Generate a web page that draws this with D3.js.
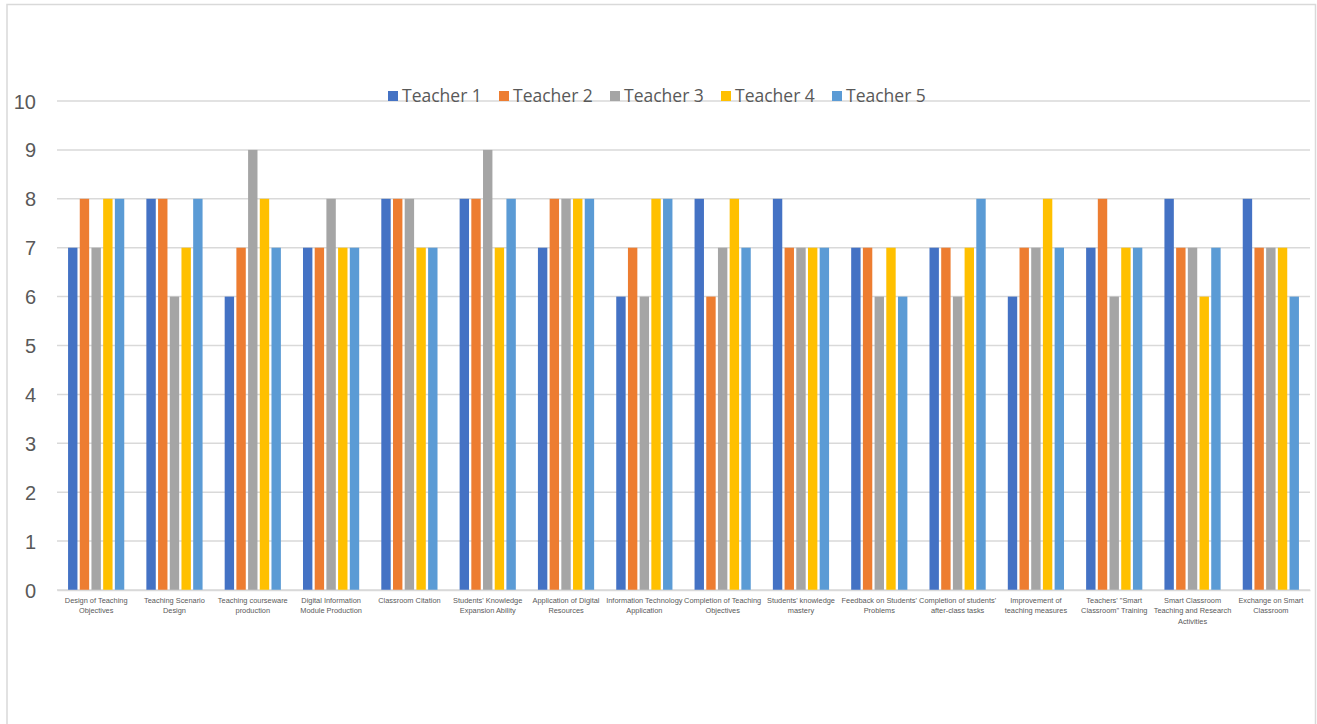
<!DOCTYPE html>
<html>
<head>
<meta charset="utf-8">
<script src="https://cdn.jsdelivr.net/npm/d3@7"></script>
<style>
  body { margin: 0; background: #fff; }
  svg { display: block; }
</style>
</head>
<body>
<div id="chart"></div>
<script>
// chart data

let categories = [
  "Design of Teaching\nObjectives",
  "Teaching Scenario\nDesign",
  "Teaching courseware\nproduction",
  "Digital Information\nModule Production",
  "Classroom Citation",
  "Students' Knowledge\nExpansion Ability",
  "Application of Digital\nResources",
  "Information Technology\nApplication",
  "Completion of Teaching\nObjectives",
  "Students' knowledge\nmastery",
  "Feedback on Students'\nProblems",
  "Completion of students'\nafter-class tasks",
  "Improvement of\nteaching measures",
  "Teachers' \"Smart\nClassroom\" Training",
  "Smart Classroom\nTeaching and Research\nActivities",
  "Exchange on Smart\nClassroom"
];

let seriesNames = ["Teacher 1", "Teacher 2", "Teacher 3", "Teacher 4", "Teacher 5"];

let teacher1 = [7, 8, 6, 7, 8, 8, 7, 6, 8, 8, 7, 7, 6, 7, 8, 8];
let teacher2 = [8, 8, 7, 7, 8, 8, 8, 7, 6, 7, 7, 7, 7, 8, 7, 7];
let teacher3 = [7, 6, 9, 8, 8, 9, 8, 6, 7, 7, 6, 6, 7, 6, 7, 7];
let teacher4 = [8, 7, 8, 7, 7, 7, 8, 8, 8, 7, 7, 7, 8, 7, 6, 7];
let teacher5 = [8, 8, 7, 7, 7, 8, 8, 8, 7, 7, 6, 8, 7, 7, 7, 6];

let yTicks = [0, 1, 2, 3, 4, 5, 6, 7, 8, 9, 10];

let colors = ["#4472C4", "#ED7D31", "#A5A5A5", "#FFC000", "#5B9BD5"];

// size and margins
let svgWidth = 1317;
let svgHeight = 724;

let margin = { top: 101, right: 7, bottom: 134, left: 57 };
let width = svgWidth - margin.left - margin.right;
let height = svgHeight - margin.top - margin.bottom;

let svg = d3.select("#chart")
  .append("svg")
  .attr("width", svgWidth)
  .attr("height", svgHeight)
  .style("font-family", "'Open Sans', sans-serif");

// outer frame
svg.append("rect")
  .attr("x", 7)
  .attr("y", 4.5)
  .attr("width", 1308.5)
  .attr("height", 730)
  .attr("fill", "none")
  .attr("stroke", "#D9D9D9")
  .attr("stroke-width", 1.5);

let chartGroup = svg.append("g")
  .attr("transform", `translate(${margin.left}, ${margin.top})`);

let allSeries = [teacher1, teacher2, teacher3, teacher4, teacher5];

// scales
let xScale = d3.scaleBand()
  .domain(d3.range(categories.length))
  .range([0, width]);

let yScale = d3.scaleLinear()
  .domain([0, 10])
  .range([height, 0]);

let barWidth = 9.4;
let barStep = 11.7;
let xInner = d3.scaleLinear()
  .domain([0, seriesNames.length - 1])
  .range([-2 * barStep, 2 * barStep]);

// gridlines
chartGroup.append("g")
  .selectAll("line")
  .data(yTicks)
  .enter()
  .append("line")
  .attr("x1", 0)
  .attr("x2", width)
  .attr("y1", d => yScale(d))
  .attr("y2", d => yScale(d))
  .attr("stroke", "#D9D9D9")
  .attr("stroke-width", 1.5);

// y axis labels
let leftAxis = d3.axisLeft(yScale).tickValues(yTicks).tickSize(0).tickPadding(21);
let yAxisG = chartGroup.append("g").call(leftAxis);
yAxisG.select(".domain").remove();
yAxisG.selectAll("text")
  .style("font-size", "20px")
  .style("fill", "#595959")
  .attr("dy", "0.35em");

// bars
allSeries.forEach(function(values, s) {
  chartGroup.append("g")
    .selectAll("rect")
    .data(values)
    .enter()
    .append("rect")
    .attr("x", (d, i) => xScale(i) + xScale.bandwidth() / 2 + xInner(s) - barWidth / 2)
    .attr("y", d => yScale(d))
    .attr("width", barWidth)
    .attr("height", d => height - yScale(d))
    .attr("fill", colors[s]);
});

// x axis category labels
let bottomAxis = d3.axisBottom(xScale).tickSize(0).tickFormat("");
let xAxisG = chartGroup.append("g")
  .attr("transform", `translate(0, ${height})`)
  .call(bottomAxis);
xAxisG.select(".domain").attr("stroke", "#D9D9D9").attr("stroke-width", 1.5);

xAxisG.selectAll(".tick").each(function(d) {
  let lines = categories[d].split("\n");
  let t = d3.select(this).append("text")
    .attr("text-anchor", "middle")
    .style("font-size", "7.4px")
    .style("fill", "#595959");
  lines.forEach(function(line, k) {
    t.append("tspan")
      .attr("x", 0)
      .attr("y", 13 + k * 10.4)
      .text(line);
  });
});

// legend
let legend = svg.append("g")
  .attr("transform", "translate(388, 96)");

let legendItems = legend.selectAll("g")
  .data(seriesNames)
  .enter()
  .append("g")
  .attr("transform", (d, i) => `translate(${i * 111}, 0)`);

legendItems.append("rect")
  .attr("x", 0)
  .attr("y", -5)
  .attr("width", 10)
  .attr("height", 10)
  .attr("fill", (d, i) => colors[i]);

legendItems.append("text")
  .attr("x", 14)
  .attr("y", 0)
  .attr("dy", "0.35em")
  .style("font-size", "17.5px")
  .style("fill", "#595959")
  .text(d => d);
</script>
</body>
</html>
